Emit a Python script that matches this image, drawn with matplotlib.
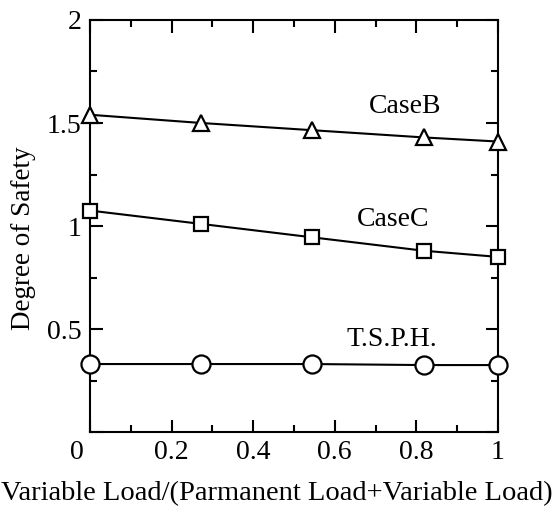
import matplotlib.pyplot as plt
import matplotlib.transforms as mtransforms
from matplotlib.ticker import MultipleLocator, FuncFormatter

plt.rcParams['font.family'] = ['Liberation Serif', 'DejaVu Serif']

# load ratio values at which the cases were evaluated
ratio = [0.0, 0.273, 0.545, 0.818, 1.0]
case_b = [1.54, 1.50, 1.465, 1.43, 1.41]
case_c = [1.075, 1.01, 0.945, 0.88, 0.85]
tsph = [0.33, 0.33, 0.33, 0.325, 0.325]

labels = ["CaseB", "CaseC", "T.S.P.H."]
label_pos = [(0.772, 1.58), (0.743, 1.03), (0.74, 0.447)]

fig = plt.figure(figsize=(5.53, 5.14), dpi=100)
ax = fig.add_axes([0.1627, 0.1595, 0.7378, 0.8016])

ax.plot(ratio, case_b, color="black", lw=1.5, marker="^", ms=11,
        mfc="white", mec="black", mew=1.6, clip_on=False, zorder=3)
ax.plot(ratio, case_c, color="black", lw=1.5, marker="s", ms=10,
        mfc="white", mec="black", mew=1.6, clip_on=False, zorder=3)
ax.plot(ratio, tsph, color="black", lw=1.5, marker="o", ms=13,
        mfc="white", mec="black", mew=1.6, clip_on=False, zorder=3)

for txt, (x, y) in zip(labels, label_pos):
    ax.text(x, y, txt, ha="center", va="center", fontsize=20)

ax.set_xlim(0, 1)
ax.set_ylim(0, 2)
ax.xaxis.set_major_locator(MultipleLocator(0.2))
ax.xaxis.set_minor_locator(MultipleLocator(0.1))
ax.yaxis.set_major_locator(MultipleLocator(0.5))
ax.yaxis.set_minor_locator(MultipleLocator(0.25))
ax.xaxis.set_major_formatter(FuncFormatter(lambda v, p: "%g" % round(v, 2)))
ax.yaxis.set_major_formatter(FuncFormatter(lambda v, p: "" if v == 0 else "%g" % v))

ax.tick_params(which="both", direction="in", top=True, right=True, width=1.5)
ax.tick_params(which="major", length=9, labelsize=20, pad=6)
ax.tick_params(which="minor", length=5)
for s in ax.spines.values():
    s.set_linewidth(1.5)

ax.set_xlabel("Variable Load/(Parmanent Load+Variable Load)", fontsize=20.5)
ax.xaxis.set_label_coords(0.458, -0.118)
ax.set_ylabel("Degree of Safety", fontsize=19.5)
ax.yaxis.label.set_va("center")
ax.yaxis.set_label_coords(-0.162, 0.47)

# the "0" under the x axis sits a little to the left in the original
fig.canvas.draw()
for tick in ax.xaxis.get_major_ticks():
    if abs(tick.get_loc()) < 1e-9:
        lab = tick.label1
        lab.set_transform(lab.get_transform() +
                          mtransforms.ScaledTranslation(-0.13, 0, fig.dpi_scale_trans))

fig.savefig("out.png", dpi=100)
